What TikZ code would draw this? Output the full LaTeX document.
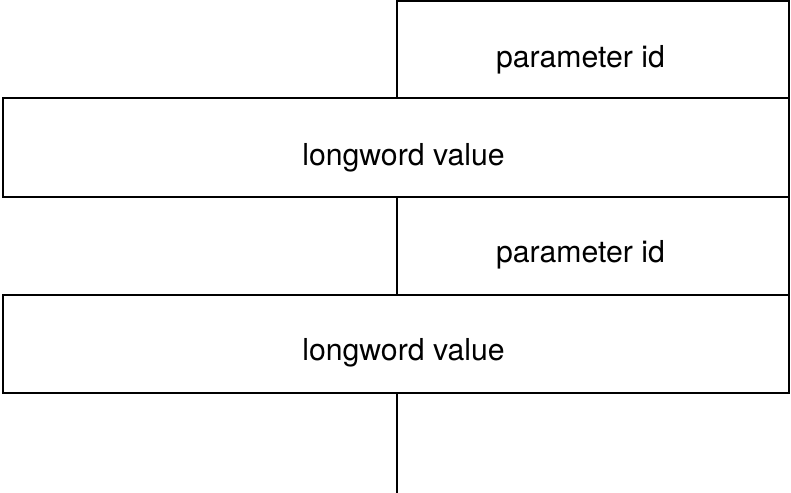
\documentclass[tikz,border=0pt]{standalone}
\usepackage{fontspec}
\setmainfont{TeX Gyre Heros}
\begin{document}
\begin{tikzpicture}[x=0.025cm,y=-0.025cm,line width=1.4pt,
                    every node/.style={font=\fontsize{21.5}{26}\selectfont,anchor=base}]
                    % \useasboundingbox fixes the margins
                    \useasboundingbox (0,0) rectangle (791,493);

                    \draw (397,1) rectangle (789,98);
                    \draw (3,98) rectangle (789,197);
                    \draw (397,197) rectangle (789,295);
                    \draw (3,295) rectangle (789,393);
                    \coordinate (lwvtwo-s) at (397,393);
                    \coordinate (tail) at (397,493);
                    \draw (lwvtwo-s) -- (tail);

                    \node (pidone) at (580.5,67) {parameter id};
                    \node (lwvone) at (403.5,165) {longword value};
                    \node (pidtwo) at (580.5,262) {parameter id};
                    \node (lwvtwo) at (403.5,360) {longword value};

                \end{tikzpicture}
\end{document}
